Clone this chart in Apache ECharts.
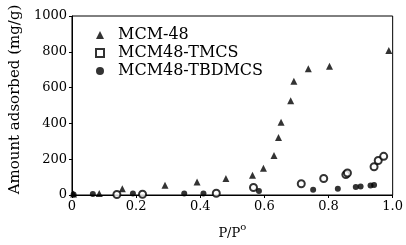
<!DOCTYPE html>
<html><head><meta charset="utf-8">
<script src="https://cdn.jsdelivr.net/npm/echarts@6/dist/echarts.min.js"></script>
<style>html,body{margin:0;padding:0;background:#fff}#c{width:406px;height:245px}</style>
</head><body><div id="c"></div>
<script>
const seriesNames = ['MCM-48', 'MCM48-TMCS', 'MCM48-TBDMCS'];
const xTicks = [0, 0.2, 0.4, 0.6, 0.8, 1.0];
const yTicks = [0, 200, 400, 600, 800, 1000];
const mcm48 = [[0.005,5],[0.085,8],[0.157,35],[0.29,55],[0.39,72],[0.48,92],[0.563,110],[0.597,150],[0.63,221],[0.644,321],[0.652,407],[0.682,526],[0.692,635],[0.737,705],[0.803,719],[0.988,807]];
const tmcs = [[0.14,3],[0.22,4],[0.45,10],[0.566,42],[0.715,63],[0.785,92],[0.854,114],[0.859,123],[0.942,158],[0.955,193],[0.972,216]];
const tbdmcs = [[0.005,3],[0.065,5],[0.19,8],[0.35,8],[0.41,8],[0.583,23],[0.752,30],[0.829,35],[0.885,44],[0.90,47],[0.931,53],[0.942,56]];

const FONT = 'DejaVu Serif';
const chart = echarts.init(document.getElementById('c'));
chart.setOption({
  animation: false,
  backgroundColor: '#fff',
  grid: {left: 69, right: 12, top: 16, bottom: 40, show: true, borderColor: '#000', borderWidth: 1},
  legend: {
    orient: 'vertical', left: 90, top: 22, itemWidth: 8, itemHeight: 8, itemGap: 2,
    textStyle: {fontFamily: FONT, fontSize: 16, color: '#000', lineHeight: 14, padding: [0,0,0,9]},
    data: [
      {name: seriesNames[0], icon: 'triangle'},
      {name: seriesNames[1], icon: 'emptyRect'},
      {name: seriesNames[2], icon: 'circle'}
    ]
  },
  xAxis: {
    type: 'value', min: xTicks[0], max: xTicks[xTicks.length-1], interval: 0.2,
    splitLine: {show: false},
    axisLine: {lineStyle: {color: '#000', width: 1}},
    axisTick: {length: 3, lineStyle: {color: '#000'}},
    axisLabel: {fontFamily: FONT, fontSize: 13, color: '#000', margin: 5,
      formatter: v => v === 0 ? '0' : v.toFixed(1)},
    name: '{a|P/P}{s|o}', nameLocation: 'middle', nameGap: 27,
    nameTextStyle: {fontFamily: FONT, fontSize: 13, color: '#000',
      rich: {
        a: {fontFamily: FONT, fontSize: 13, color: '#000', lineHeight: 18, verticalAlign: 'bottom'},
        s: {fontFamily: FONT, fontSize: 10, color: '#000', lineHeight: 10, verticalAlign: 'top'}
      }}
  },
  yAxis: {
    type: 'value', min: yTicks[0], max: yTicks[yTicks.length-1], interval: 200,
    splitLine: {show: false},
    axisLine: {lineStyle: {color: '#000', width: 1}},
    axisTick: {length: 3, lineStyle: {color: '#000'}},
    axisLabel: {fontFamily: FONT, fontSize: 13, color: '#000', margin: 5, formatter: v => String(v)},
    name: 'Amount adsorbed (mg/g)', nameLocation: 'middle', nameGap: 46,
    nameTextStyle: {fontFamily: FONT, fontSize: 15, color: '#000', padding: [0,0,0,12]}
  },
  series: [
    {name: seriesNames[0], type: 'scatter', data: mcm48, symbol: 'triangle', symbolSize: 7, itemStyle: {color: '#000'}},
    {name: seriesNames[1], type: 'scatter', data: tmcs, symbol: 'emptyCircle', symbolSize: 7, itemStyle: {color: '#000', borderColor: '#000', borderWidth: 1}},
    {name: seriesNames[2], type: 'scatter', data: tbdmcs, symbol: 'circle', symbolSize: 6, itemStyle: {color: '#000'}}
  ]
});
</script></body></html>
